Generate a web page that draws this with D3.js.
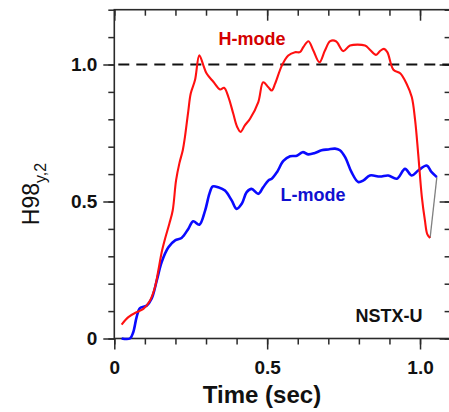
<!DOCTYPE html>
<html>
<head>
<meta charset="utf-8">
<script src="https://cdn.jsdelivr.net/npm/d3@7"></script>
<style>
  html, body { margin: 0; padding: 0; background: #fff; }
  svg { display: block; font-family: "Liberation Sans", Arial, sans-serif; }
</style>
</head>
<body>
<svg id="chart" width="449" height="412"></svg>
<script>
// H98(y,2) confinement factor versus time, NSTX-U discharges

// H-mode discharge
const hModeTime = [0.024, 0.046, 0.073, 0.095, 0.117, 0.133, 0.144, 0.155, 0.166, 0.180, 0.191, 0.202,
  0.213, 0.224, 0.231, 0.242, 0.250, 0.264, 0.278, 0.291, 0.302, 0.324, 0.346, 0.359, 0.373, 0.389,
  0.402, 0.413, 0.427, 0.444, 0.471, 0.487, 0.504, 0.515, 0.526, 0.548, 0.569, 0.591, 0.607, 0.618,
  0.635, 0.651, 0.671, 0.689, 0.706, 0.725, 0.749, 0.771, 0.820, 0.836, 0.856, 0.869, 0.882, 0.893,
  0.913, 0.935, 0.956, 0.973, 0.984, 0.994, 1.006, 1.016, 1.024, 1.033];
const hModeValue = [0.051, 0.078, 0.096, 0.108, 0.139, 0.187, 0.248, 0.315, 0.364, 0.419, 0.467, 0.577,
  0.640, 0.687, 0.735, 0.830, 0.894, 0.943, 1.034, 0.998, 0.967, 0.937, 0.909, 0.915, 0.882, 0.821,
  0.772, 0.754, 0.778, 0.802, 0.863, 0.935, 0.917, 0.905, 0.930, 0.996, 1.033, 1.045, 1.045, 1.063,
  1.085, 1.051, 1.008, 1.051, 1.085, 1.085, 1.049, 1.069, 1.069, 1.054, 1.035, 1.049, 1.057, 1.045,
  0.981, 0.968, 0.930, 0.881, 0.796, 0.674, 0.516, 0.431, 0.380, 0.367];

// L-mode discharge
const lModeTime = [0.024, 0.051, 0.062, 0.073, 0.084, 0.106, 0.122, 0.139, 0.155, 0.177, 0.199, 0.220,
  0.242, 0.258, 0.278, 0.297, 0.311, 0.322, 0.340, 0.362, 0.384, 0.400, 0.417, 0.433, 0.449, 0.471,
  0.487, 0.504, 0.515, 0.532, 0.553, 0.575, 0.597, 0.616, 0.635, 0.656, 0.678, 0.700, 0.722, 0.738,
  0.755, 0.776, 0.798, 0.815, 0.836, 0.869, 0.896, 0.924, 0.951, 0.973, 0.994, 1.022, 1.038, 1.055];
const lModeValue = [0.000, 0.000, 0.023, 0.078, 0.111, 0.120, 0.145, 0.212, 0.279, 0.333, 0.358, 0.367,
  0.400, 0.428, 0.415, 0.467, 0.528, 0.555, 0.552, 0.540, 0.504, 0.473, 0.492, 0.534, 0.546, 0.528,
  0.552, 0.577, 0.583, 0.607, 0.648, 0.665, 0.667, 0.680, 0.672, 0.677, 0.687, 0.690, 0.693, 0.687,
  0.662, 0.607, 0.571, 0.577, 0.595, 0.591, 0.595, 0.583, 0.619, 0.595, 0.613, 0.631, 0.607, 0.589];

// Axis ticks and labels
const xMinorTicks = [0, 0.1, 0.2, 0.3, 0.4, 0.5, 0.6, 0.7, 0.8, 0.9, 1.0, 1.1];
const xMajorTicks = [0, 0.5, 1.0];
const xTickLabels = ["0", "0.5", "1.0"];
const yMinorTicks = [0, 0.1, 0.2, 0.3, 0.4, 0.5, 0.6, 0.7, 0.8, 0.9, 1.0, 1.1, 1.2];
const yMajorTicks = [0, 0.5, 1.0];
const yTickLabels = ["0", "0.5", "1.0"];
const referenceLevel = 1.0;

const svg = d3.select("#chart");
const plotLeft = 114.3, plotRight = 450.6, plotTop = 9.7, plotBottom = 338.5;

const x = d3.scaleLinear().domain([0, 1.1]).range([plotLeft, plotRight]);
const y = d3.scaleLinear().domain([0, 1.2]).range([plotBottom, plotTop]);

const axisColor = "#2a2a2a";
const MAJ = 11, MIN = 6;

function styleAxis(g) {
  g.select(".domain").remove();
  g.selectAll(".tick line").attr("stroke", axisColor).attr("stroke-width", 1.5);
}

// bottom axis: outward ticks with labels on major ticks
svg.append("g").attr("transform", `translate(0,${plotBottom})`)
  .call(d3.axisBottom(x).tickValues(xMinorTicks).tickSize(MIN).tickFormat(""))
  .call(styleAxis);
svg.append("g").attr("transform", `translate(0,${plotBottom})`)
  .call(d3.axisBottom(x).tickValues(xMajorTicks).tickSize(MAJ).tickPadding(11)
    .tickFormat((d, i) => xTickLabels[i]))
  .call(styleAxis)
  .call(g => g.selectAll("text").attr("fill", "#111").attr("font-size", 19)
    .attr("font-weight", "bold").attr("font-family", "Liberation Sans, Arial, sans-serif"));

// left axis
svg.append("g").attr("transform", `translate(${plotLeft},0)`)
  .call(d3.axisLeft(y).tickValues(yMinorTicks).tickSize(MIN).tickFormat(""))
  .call(styleAxis);
svg.append("g").attr("transform", `translate(${plotLeft},0)`)
  .call(d3.axisLeft(y).tickValues(yMajorTicks).tickSize(MAJ).tickPadding(6)
    .tickFormat((d, i) => yTickLabels[i]))
  .call(styleAxis)
  .call(g => g.selectAll("text").attr("fill", "#111").attr("font-size", 19)
    .attr("font-weight", "bold").attr("font-family", "Liberation Sans, Arial, sans-serif"));

// top axis: inward ticks
svg.append("g").attr("transform", `translate(0,${plotTop})`)
  .call(d3.axisTop(x).tickValues(xMinorTicks).tickSize(-MIN).tickFormat(""))
  .call(styleAxis);
svg.append("g").attr("transform", `translate(0,${plotTop})`)
  .call(d3.axisTop(x).tickValues(xMajorTicks).tickSize(-MAJ).tickFormat(""))
  .call(styleAxis);

// right axis: inward ticks
svg.append("g").attr("transform", `translate(${plotRight},0)`)
  .call(d3.axisRight(y).tickValues(yMinorTicks).tickSize(-MIN).tickFormat(""))
  .call(styleAxis);
svg.append("g").attr("transform", `translate(${plotRight},0)`)
  .call(d3.axisRight(y).tickValues(yMajorTicks).tickSize(-MAJ).tickFormat(""))
  .call(styleAxis);

// frame
svg.append("rect")
  .attr("x", plotLeft).attr("y", plotTop)
  .attr("width", plotRight - plotLeft).attr("height", plotBottom - plotTop)
  .attr("fill", "none").attr("stroke", axisColor).attr("stroke-width", 1.6);

// H98 = 1 reference
svg.append("line")
  .attr("x1", x(0) + 4).attr("x2", plotRight)
  .attr("y1", y(referenceLevel)).attr("y2", y(referenceLevel))
  .attr("stroke", "#111").attr("stroke-width", 2)
  .attr("stroke-dasharray", "11,7");

const line = d3.line().x(d => x(d[0])).y(d => y(d[1]));
const hData = hModeTime.map((t, i) => [t, hModeValue[i]]);
const lData = lModeTime.map((t, i) => [t, lModeValue[i]]);

// connector between the ends of the two traces
svg.append("line")
  .attr("x1", x(hModeTime[hModeTime.length - 1])).attr("y1", y(hModeValue[hModeValue.length - 1]))
  .attr("x2", x(lModeTime[lModeTime.length - 1])).attr("y2", y(lModeValue[lModeValue.length - 1]))
  .attr("stroke", "#808080").attr("stroke-width", 1.3);

svg.append("path").datum(lData)
  .attr("d", line.curve(d3.curveCatmullRom.alpha(0.5)))
  .attr("fill", "none").attr("stroke", "#0a0aff").attr("stroke-width", 2.6)
  .attr("stroke-linejoin", "round");

svg.append("path").datum(hData)
  .attr("d", line.curve(d3.curveCatmullRom.alpha(0.5)))
  .attr("fill", "none").attr("stroke", "#ff1010").attr("stroke-width", 2.1)
  .attr("stroke-linejoin", "round");

// annotations
svg.append("text").attr("x", 252).attr("y", 45)
  .attr("text-anchor", "middle").attr("font-size", 18).attr("font-weight", "bold")
  .attr("fill", "#d40000").text("H-mode");
svg.append("text").attr("x", 313).attr("y", 201)
  .attr("text-anchor", "middle").attr("font-size", 18).attr("font-weight", "bold")
  .attr("fill", "#1010d0").text("L-mode");
svg.append("text").attr("x", 389).attr("y", 322)
  .attr("text-anchor", "middle").attr("font-size", 18).attr("font-weight", "bold")
  .attr("fill", "#111").text("NSTX-U");

// axis titles
svg.append("text").attr("x", 262).attr("y", 403)
  .attr("text-anchor", "middle").attr("font-size", 24).attr("font-weight", "bold")
  .attr("fill", "#111").text("Time (sec)");

const yTitle = svg.append("text")
  .attr("transform", "translate(39,194) rotate(-90)")
  .attr("text-anchor", "middle").attr("fill", "#111");
yTitle.append("tspan").attr("font-size", 23).text("H98");
yTitle.append("tspan").attr("font-size", 16).attr("dy", 7).text("y,2");
</script>
</body>
</html>
